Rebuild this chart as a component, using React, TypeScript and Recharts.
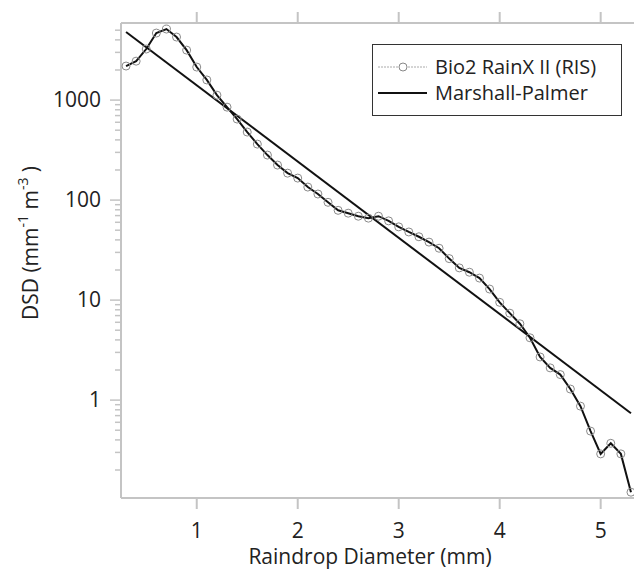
import { ComposedChart, Line, XAxis, YAxis, Legend } from "recharts";

// Bio2 RainX II (RIS) measured drop size distribution
const diameters = [
  0.3, 0.4, 0.5, 0.6, 0.7, 0.8, 0.9, 1.0, 1.1, 1.2, 1.3, 1.4, 1.5, 1.6, 1.7,
  1.8, 1.9, 2.0, 2.1, 2.2, 2.3, 2.4, 2.5, 2.6, 2.7, 2.8, 2.9, 3.0, 3.1, 3.2,
  3.3, 3.4, 3.5, 3.6, 3.7, 3.8, 3.9, 4.0, 4.1, 4.2, 4.3, 4.4, 4.5, 4.6, 4.7,
  4.8, 4.9, 5.0, 5.1, 5.2, 5.3,
];
const bio2Values = [
  2190, 2450, 3240, 4680, 5130, 4270, 3160, 2140, 1590, 1120, 850, 646, 479,
  363, 282, 224, 186, 166, 135, 115, 95, 79, 74, 69, 66, 69, 62, 54, 48, 43,
  38, 33, 26, 21, 19, 16.6, 12.9, 9.5, 7.4, 5.8, 4.2, 2.7, 2.1, 1.8, 1.29,
  0.87, 0.49, 0.29, 0.37, 0.29, 0.12,
];

// Marshall-Palmer line end points
const mpDiameters = [0.3, 5.3];
const mpValues = [4800, 0.74];

const xTicks = [1, 2, 3, 4, 5];
const yMajorTicks = [1, 10, 100, 1000];
const yMinorTicks = [
  0.2, 0.3, 0.4, 0.5, 0.6, 0.7, 0.8, 0.9,
  2, 3, 4, 5, 6, 7, 8, 9,
  20, 30, 40, 50, 60, 70, 80, 90,
  200, 300, 400, 500, 600, 700, 800, 900,
  2000, 3000, 4000, 5000,
];

const bio2Data = diameters.map((d, i) => ({ d, v: bio2Values[i] }));
const mpData = mpDiameters.map((d, i) => ({ d, v: mpValues[i] }));
const yTicks = [...yMajorTicks, ...yMinorTicks].sort((a, b) => a - b);

const FONT = "'Open Sans', 'Noto Sans', sans-serif";
const AXIS = "#c4c4c4";

function YTick(props: any) {
  const { x, y, payload } = props;
  const major = yMajorTicks.includes(payload.value);
  return (
    <g>
      <line x1={x - (major ? 11 : 6)} x2={x} y1={y} y2={y} stroke={AXIS} strokeWidth={1.5} />
      {major && (
        <text x={x - 20} y={y + 7} textAnchor="end" fontSize={21} fill="#222" fontFamily={FONT}>
          {payload.value}
        </text>
      )}
    </g>
  );
}

function XTick(props: any) {
  const { x, y, payload } = props;
  return (
    <g>
      <line x1={x} x2={x} y1={y} y2={y + 11} stroke={AXIS} strokeWidth={2} />
      <text x={x} y={y + 40} textAnchor="middle" fontSize={21} fill="#222" fontFamily={FONT}>
        {payload.value}
      </text>
    </g>
  );
}

function TopTick(props: any) {
  const { x, y } = props;
  return <line x1={x} x2={x} y1={y - 11} y2={y} stroke={AXIS} strokeWidth={2} />;
}

function YTitle() {
  return (
    <text
      transform="rotate(-90, 38, 243)"
      x={38}
      y={243}
      textAnchor="middle"
      fontSize={21}
      fill="#222"
      fontFamily={FONT}
    >
      DSD (mm
      <tspan dy={-10} fontSize={14}>-1</tspan>
      <tspan dy={10}>{"  m"}</tspan>
      <tspan dy={-10} fontSize={14}>-3</tspan>
      <tspan dy={10}>{"  )"}</tspan>
    </text>
  );
}

function XTitle() {
  return (
    <text x={370} y={564} textAnchor="middle" fontSize={21} fill="#222" fontFamily={FONT}>
      Raindrop Diameter (mm)
    </text>
  );
}

function LegendBox() {
  return (
    <div
      style={{
        border: "1.5px solid #333",
        background: "#fff",
        padding: "9px 4px 9px 4px",
        fontFamily: FONT,
        fontSize: 20,
        color: "#222",
        lineHeight: "26px",
        whiteSpace: "nowrap",
      }}
    >
      <div style={{ display: "flex", alignItems: "center" }}>
        <svg width={52} height={14} style={{ marginRight: 6 }}>
          <line x1={1} x2={50} y1={7} y2={7} stroke="#aaa" strokeWidth={1} strokeDasharray="2 1" />
          <circle cx={26} cy={7} r={4} fill="#fff" stroke="#888" strokeWidth={1} />
        </svg>
        Bio2 RainX II (RIS)
      </div>
      <div style={{ display: "flex", alignItems: "center" }}>
        <svg width={52} height={14} style={{ marginRight: 6 }}>
          <line x1={1} x2={50} y1={7} y2={7} stroke="#111" strokeWidth={2} />
        </svg>
        Marshall-Palmer
      </div>
    </div>
  );
}

export default function App() {
  return (
    <div style={{ position: "absolute", left: 0, top: 0, background: "#fff" }}>
      <ComposedChart width={635} height={569} margin={{ top: 10, right: 1, bottom: 31, left: 61 }}>
        <XAxis
          xAxisId="top"
          orientation="top"
          type="number"
          dataKey="d"
          domain={[0.25, 5.33]}
          allowDataOverflow
          ticks={xTicks}
          height={13}
          tickSize={0}
          tickMargin={0}
          tick={<TopTick />}
          axisLine={{ stroke: AXIS, strokeWidth: 2 }}
        />
        <XAxis
          type="number"
          dataKey="d"
          domain={[0.25, 5.33]}
          allowDataOverflow
          ticks={xTicks}
          height={40}
          tickSize={0}
          tickMargin={0}
          tick={<XTick />}
          axisLine={{ stroke: AXIS, strokeWidth: 2 }}
          label={{ content: () => <XTitle /> }}
        />
        <YAxis
          type="number"
          dataKey="v"
          scale="log"
          domain={[0.105, 5900]}
          allowDataOverflow
          ticks={yTicks}
          interval={0}
          width={60}
          tickSize={0}
          tickMargin={0}
          tick={<YTick />}
          axisLine={{ stroke: AXIS, strokeWidth: 2 }}
          label={{ content: () => <YTitle /> }}
        />
        <Legend
          layout="vertical"
          verticalAlign="middle"
          align="center"
          wrapperStyle={{ left: 372, top: 44, width: 250 }}
          content={() => <LegendBox />}
        />
        <Line
          data={mpData}
          dataKey="v"
          type="linear"
          stroke="#111"
          strokeWidth={2}
          dot={false}
          isAnimationActive={false}
        />
        <Line
          data={bio2Data}
          dataKey="v"
          type="linear"
          stroke="#111"
          strokeWidth={2}
          dot={{ r: 4, stroke: "#8a8a8a", strokeWidth: 1, fill: "none" }}
          isAnimationActive={false}
        />
      </ComposedChart>
    </div>
  );
}
